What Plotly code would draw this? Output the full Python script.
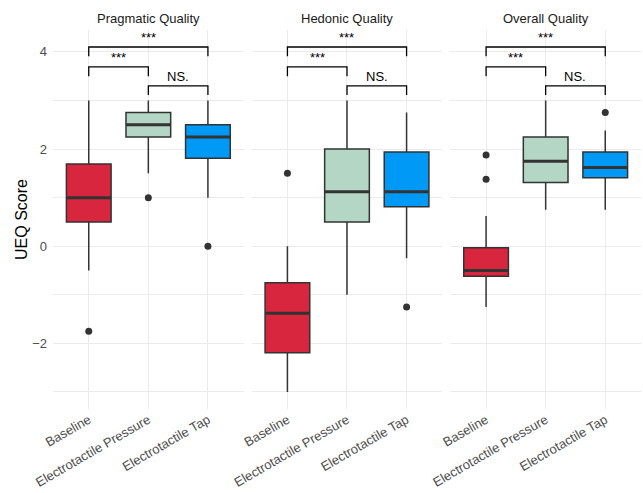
import plotly.graph_objects as go
from plotly.subplots import make_subplots

facets = ["Pragmatic Quality", "Hedonic Quality", "Overall Quality"]
conditions = ["Baseline", "Electrotactile Pressure", "Electrotactile Tap"]
colors = ["#D7263D", "#B3D6C5", "#0099F5"]

# box statistics: one row per facet, one value per condition
lowerfence = [[-0.5, 1.5, 1.0], [-3.0, -1.0, -0.25], [-1.25, 0.75, 0.75]]
q1 = [[0.5, 2.25, 1.81], [-2.19, 0.5, 0.81], [-0.62, 1.31, 1.41]]
median = [[1.0, 2.5, 2.25], [-1.38, 1.12, 1.12], [-0.5, 1.75, 1.62]]
q3 = [[1.69, 2.75, 2.5], [-0.75, 2.0, 1.94], [-0.03, 2.25, 1.94]]
upperfence = [[3.0, 3.0, 3.0], [0.0, 3.0, 2.75], [0.62, 3.0, 2.38]]
outliers = [[[-1.75], [1.0], [0.0]],
            [[1.5], [], [-1.25]],
            [[1.88, 1.38], [], [2.75]]]

# significance brackets (same in each facet)
comparisons = [(0, 2), (0, 1), (1, 2)]
bracket_y = [4.1, 3.69, 3.3]
bracket_labels = ["***", "***", "NS."]
tip_length = 0.19

y_ticks = [-2, 0, 2, 4]

BOX_W = 0.75
EDGE = "#333333"
GRID = "#EBEBEB"
FONT = "Liberation Sans, Arial, sans-serif"

fig = make_subplots(rows=1, cols=3, shared_yaxes=True,
                    horizontal_spacing=0.0136, subplot_titles=facets)

for c in range(3):
    col = c + 1
    for j, cond in enumerate(conditions):
        pos = j + 1
        fig.add_trace(go.Box(
            x=[pos], q1=[q1[c][j]], median=[median[c][j]], q3=[q3[c][j]],
            lowerfence=[lowerfence[c][j]], upperfence=[upperfence[c][j]],
            width=BOX_W, fillcolor=colors[j], line=dict(color=EDGE, width=1.5),
            whiskerwidth=0, boxpoints=False, showlegend=False, name=cond,
        ), row=1, col=col)
        fig.add_trace(go.Scatter(
            x=[pos - BOX_W / 2, pos + BOX_W / 2], y=[median[c][j]] * 2,
            mode="lines", line=dict(color=EDGE, width=3),
            showlegend=False, hoverinfo="skip",
        ), row=1, col=col)
        if outliers[c][j]:
            fig.add_trace(go.Scatter(
                x=[pos] * len(outliers[c][j]), y=outliers[c][j], mode="markers",
                marker=dict(color=EDGE, size=7), showlegend=False,
            ), row=1, col=col)
    for (a, b), yb, lab in zip(comparisons, bracket_y, bracket_labels):
        xa, xb = a + 1, b + 1
        fig.add_trace(go.Scatter(
            x=[xa, xa, xb, xb], y=[yb - tip_length, yb, yb, yb - tip_length],
            mode="lines", line=dict(color="black", width=1.3),
            showlegend=False, hoverinfo="skip",
        ), row=1, col=col)
        fig.add_annotation(x=(xa + xb) / 2, y=yb, text=lab, showarrow=False,
                           yanchor="bottom", font=dict(size=13, color="black", family=FONT),
                           xref=f"x{'' if col == 1 else col}", yref=f"y{'' if col == 1 else col}")

    fig.update_xaxes(range=[0.4, 3.6], tickvals=[1, 2, 3], ticktext=conditions,
                     tickangle=-30, showgrid=True, gridcolor=GRID, gridwidth=1.1,
                     zeroline=False, showline=False, ticks="",
                     tickfont=dict(size=13, color="#4D4D4D", family=FONT),
                     row=1, col=col)
    fig.update_yaxes(range=[-3.35, 4.45], tickvals=y_ticks, showgrid=True,
                     gridcolor=GRID, gridwidth=1.1, zeroline=False, showline=False,
                     ticks="", minor=dict(dtick=1, tick0=1, showgrid=True,
                                          gridcolor=GRID, gridwidth=0.6),
                     tickfont=dict(size=13, color="#4D4D4D", family=FONT),
                     row=1, col=col)

for ann in fig.layout.annotations:
    if ann.text in facets:
        ann.font = dict(size=13, color="#1A1A1A", family=FONT)
        ann.yshift = 2

fig.update_yaxes(title=dict(text="UEQ Score", font=dict(size=16, color="black", family=FONT),
                            standoff=0), ticklabelstandoff=5, row=1, col=1)

fig.update_layout(width=643, height=493, plot_bgcolor="white", paper_bgcolor="white",
                  margin=dict(l=53, r=2, t=30, b=84, autoexpand=False),
                  font=dict(family=FONT), boxmode="overlay")

fig.write_html("out.html", config={"displayModeBar": False},
               post_script="document.body.style.margin='0';document.body.style.overflow='hidden';")
